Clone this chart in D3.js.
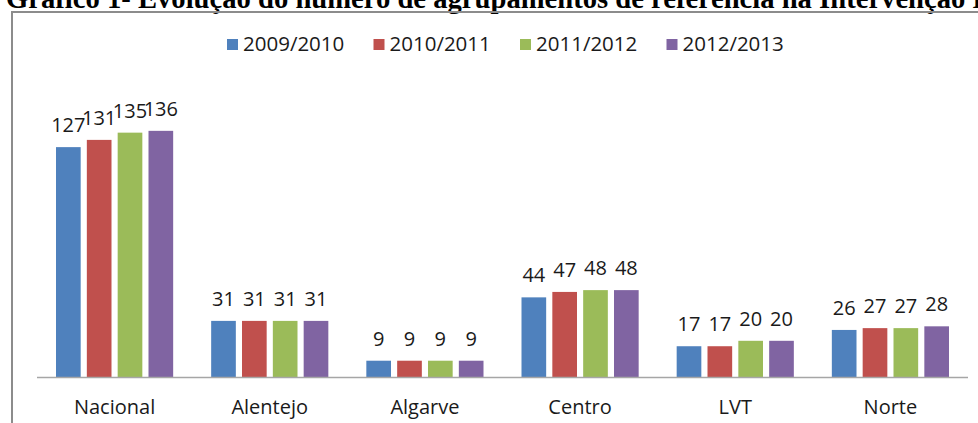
<!doctype html>
<html lang="pt">
  <head>
    <meta charset="UTF-8" />
    <title>Gráfico 1</title>
    <style>
      html, body { margin: 0; padding: 0; background: #fff; overflow: hidden; }
      svg { display: block; }
      .lbl { font-family: "Open Sans", "Noto Sans", sans-serif; font-size: 20px; fill: #1a1a1a; }
    </style>
  </head>
  <body>
    <svg id="chart"></svg>
    <script src="https://d3js.org/d3.v7.min.js"></script>
    <script>
      /* global d3 */

      const regions = ["Nacional", "Alentejo", "Algarve", "Centro", "LVT", "Norte"];
      const years = ["2009/2010", "2010/2011", "2011/2012", "2012/2013"];
      const colors = ["#4F81BD", "#C0504D", "#9BBB59", "#8064A2"];
      // one array per school year, in the order of regions
      const v2009 = [127, 31, 9, 44, 17, 26];
      const v2010 = [131, 31, 9, 47, 17, 27];
      const v2011 = [135, 31, 9, 48, 20, 27];
      const v2012 = [136, 31, 9, 48, 20, 28];
      const series = [v2009, v2010, v2011, v2012];

      const titleHead = "Gráfico 1- Evolução do número de agrupamentos de referência na Intervenção ";
      const titleTail = "Prioritária";

      const width = 978,
        height = 423;

      const svg = d3.select("#chart").attr("width", width).attr("height", height);

      // title, cut at the top like the scanned page
      const title = svg
        .append("text")
        .attr("x", 6)
        .attr("y", 8)
        .style("font-family", "'Liberation Serif', serif")
        .style("font-weight", "bold")
        .style("font-size", "20px")
        .text(titleHead);
      const headLen = title.node().getComputedTextLength();
      const fs = (20 * 960) / headLen;
      title.style("font-size", fs + "px");
      title.append("tspan").text(titleTail);

      // frame around the chart (right and bottom sides fall off the page)
      svg
        .append("rect")
        .attr("x", 12)
        .attr("y", 12)
        .attr("width", 1200)
        .attr("height", 800)
        .attr("fill", "none")
        .attr("stroke", "#8c8c8c")
        .attr("stroke-width", 2);

      const x0 = d3.scaleBand().domain(regions).range([37, 968]);
      const x1 = d3
        .scaleBand()
        .domain(years)
        .range([19, x0.bandwidth() - 19])
        .paddingInner(0.2);
      const y = d3.scaleLinear().domain([0, 140]).range([377, 377 - 140 * 1.81]);

      const groups = svg
        .selectAll("g.region")
        .data(regions)
        .join("g")
        .attr("class", "region")
        .attr("transform", (d) => `translate(${x0(d)},0)`);

      groups
        .selectAll("rect")
        .data((d, i) => years.map((yr, j) => ({ yr, j, v: series[j][i] })))
        .join("rect")
        .attr("x", (d) => x1(d.yr))
        .attr("y", (d) => y(d.v))
        .attr("width", x1.bandwidth())
        .attr("height", (d) => y(0) - y(d.v))
        .attr("fill", (d) => colors[d.j]);

      groups
        .selectAll("text.val")
        .data((d, i) => years.map((yr, j) => ({ yr, j, v: series[j][i] })))
        .join("text")
        .attr("class", "val lbl")
        .attr("x", (d) => x1(d.yr) + x1.bandwidth() / 2)
        .attr("y", (d) => y(d.v) - 15)
        .attr("text-anchor", "middle")
        .text((d) => d.v);

      // category axis
      svg
        .append("line")
        .attr("x1", 37)
        .attr("x2", 968)
        .attr("y1", y(0) + 0.5)
        .attr("y2", y(0) + 0.5)
        .attr("stroke", "#a6a6a6")
        .attr("stroke-width", 1.5);

      groups
        .append("text")
        .attr("class", "lbl")
        .attr("x", x0.bandwidth() / 2)
        .attr("y", 414)
        .attr("text-anchor", "middle")
        .text((d) => d);

      // legend
      const legend = svg
        .selectAll("g.legend")
        .data(years)
        .join("g")
        .attr("class", "legend")
        .attr("transform", (d, i) => `translate(${227 + i * 146.5},0)`);
      legend
        .append("rect")
        .attr("x", 0)
        .attr("y", 39)
        .attr("width", 11)
        .attr("height", 11)
        .attr("fill", (d, i) => colors[i]);
      legend
        .append("text")
        .attr("class", "lbl")
        .attr("x", 16)
        .attr("y", 51)
        .style("font-size", "20.5px")
        .text((d) => d);
    </script>
  </body>
</html>
